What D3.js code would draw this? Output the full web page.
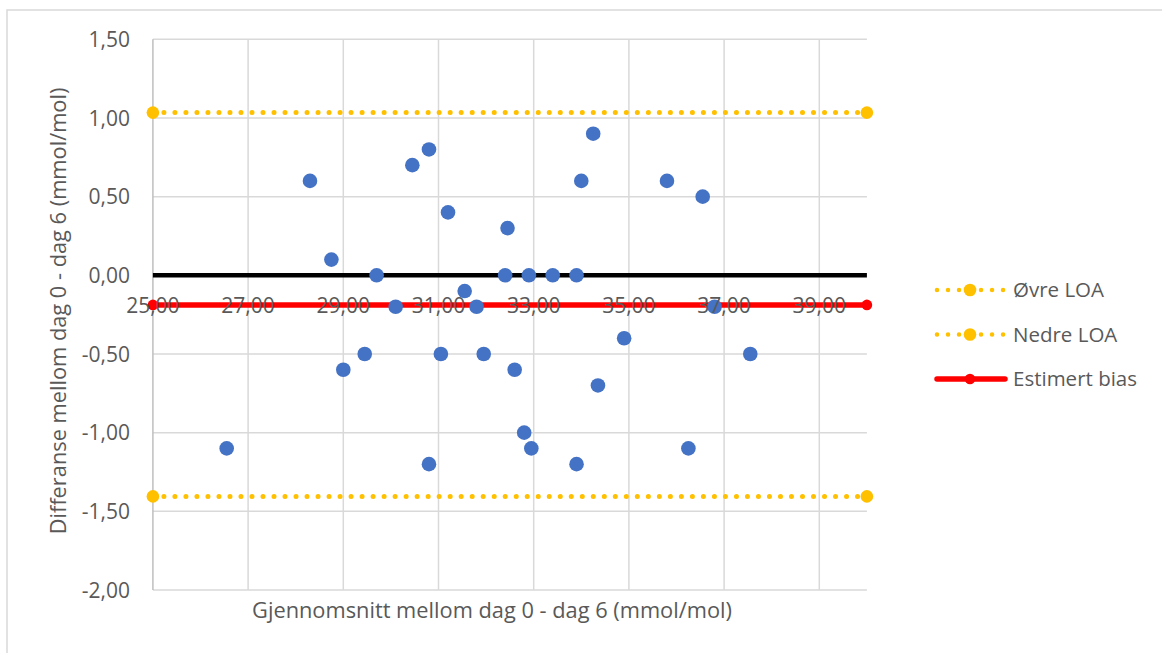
<!DOCTYPE html>
<html>
<head>
<meta charset="utf-8">
<script src="https://cdn.jsdelivr.net/npm/d3@7"></script>
<style>
  html, body { margin: 0; padding: 0; background: #fff; }
  svg { display: block; }
  text { font-family: "Open Sans", sans-serif; fill: #595959; }
</style>
</head>
<body>
<svg id="chart" width="1162" height="653"></svg>
<script>
// Bland-Altman: mean of day 0 and day 6 vs. their difference (mmol/mol)
const meanValues = [26.55, 28.30, 28.75, 29.00, 29.45, 29.70, 30.10, 30.45, 30.80, 30.80,
                    31.05, 31.20, 31.55, 31.80, 31.95, 32.40, 32.45, 32.60, 32.80, 32.90,
                    32.95, 33.40, 33.90, 33.90, 34.00, 34.25, 34.35, 34.90, 35.80, 36.25,
                    36.55, 36.80, 37.55];
const diffValues = [-1.1, 0.6, 0.1, -0.6, -0.5, 0.0, -0.2, 0.7, 0.8, -1.2,
                    -0.5, 0.4, -0.1, -0.2, -0.5, 0.0, 0.3, -0.6, -1.0, 0.0,
                    -1.1, 0.0, 0.0, -1.2, 0.6, 0.9, -0.7, -0.4, 0.6, -1.1,
                    0.5, -0.2, -0.5];

const lineEnds = [25, 40];
const upperLOA = 1.034;
const lowerLOA = -1.405;
const bias = -0.188;
const zeroLine = 0;

const xTicks = [25, 27, 29, 31, 33, 35, 37, 39];
const yTicks = [1.5, 1.0, 0.5, 0.0, -0.5, -1.0, -1.5, -2.0];

const legendLabels = ["Øvre LOA", "Nedre LOA", "Estimert bias"];

const xTitle = "Gjennomsnitt mellom dag 0 - dag 6 (mmol/mol)";
const yTitle = "Differanse mellom dag 0 - dag 6 (mmol/mol)";

const svg = d3.select("#chart");
const fmt = v => d3.format(".2f")(v).replace(".", ",").replace("−", "-");

const x = d3.scaleLinear().domain([25, 40]).range([152.9, 866.9]);
const y = d3.scaleLinear().domain([-2, 1.5]).range([590, 39.3]);

// outer chart frame
svg.append("rect")
  .attr("x", 7).attr("y", 10).attr("width", 1175).attr("height", 660)
  .attr("fill", "none").attr("stroke", "#d9d9d9").attr("stroke-width", 1.5);

// gridlines
const grid = svg.append("g");
grid.selectAll("line.h").data(yTicks).join("line")
  .attr("x1", x(25)).attr("x2", x(40))
  .attr("y1", d => y(d)).attr("y2", d => y(d))
  .attr("stroke", "#d9d9d9").attr("stroke-width", 1.5);
grid.selectAll("line.v").data(xTicks.slice(1)).join("line")
  .attr("x1", d => x(d)).attr("x2", d => x(d))
  .attr("y1", y(1.5)).attr("y2", y(-2))
  .attr("stroke", "#d9d9d9").attr("stroke-width", 1.5);

// vertical value axis line
svg.append("line")
  .attr("x1", x(25)).attr("x2", x(25))
  .attr("y1", y(1.5)).attr("y2", y(-2))
  .attr("stroke", "#bfbfbf").attr("stroke-width", 1.5);

const line = d3.line().x(d => x(d[0])).y(d => y(d[1]));

// zero reference line
svg.append("path")
  .datum(lineEnds.map(v => [v, zeroLine]))
  .attr("d", line).attr("fill", "none")
  .attr("stroke", "#000").attr("stroke-width", 4.5);

// limits of agreement (dotted yellow)
[upperLOA, lowerLOA].forEach(level => {
  const pts = lineEnds.map(v => [v, level]);
  svg.append("path").datum(pts).attr("d", line).attr("fill", "none")
    .attr("stroke", "#FFC000").attr("stroke-width", 5)
    .attr("stroke-linecap", "round").attr("stroke-dasharray", "0.01 11");
  svg.selectAll(null).data(pts).join("circle")
    .attr("cx", d => x(d[0])).attr("cy", d => y(d[1])).attr("r", 6.3)
    .attr("fill", "#FFC000");
});

// estimated bias
const biasPts = lineEnds.map(v => [v, bias]);
svg.append("path").datum(biasPts).attr("d", line).attr("fill", "none")
  .attr("stroke", "#FF0000").attr("stroke-width", 5.5);
svg.selectAll(null).data(biasPts).join("circle")
  .attr("cx", d => x(d[0])).attr("cy", d => y(d[1])).attr("r", 5.3)
  .attr("fill", "#FF0000");

// measurement points
svg.append("g").selectAll("circle")
  .data(meanValues.map((m, i) => [m, diffValues[i]]))
  .join("circle")
  .attr("cx", d => x(d[0])).attr("cy", d => y(d[1])).attr("r", 7.3)
  .attr("fill", "#4472C4");

// y tick labels
svg.append("g").selectAll("text").data(yTicks).join("text")
  .attr("x", 130).attr("y", d => y(d))
  .attr("dy", "0.36em").attr("text-anchor", "end")
  .attr("font-size", 21).text(fmt);

// x tick labels
svg.append("g").selectAll("text").data(xTicks).join("text")
  .attr("x", d => x(d)).attr("y", 312.5)
  .attr("text-anchor", "middle")
  .attr("font-size", 21).text(fmt);

// axis titles
svg.append("text")
  .attr("x", 492).attr("y", 618)
  .attr("text-anchor", "middle").attr("font-size", 21.8)
  .text(xTitle);
svg.append("text")
  .attr("transform", "translate(66,311) rotate(-90)")
  .attr("text-anchor", "middle").attr("font-size", 21.8)
  .text(yTitle);

// legend
const legend = svg.append("g");
const legendY = [290, 334.5, 379];
legendLabels.forEach((label, i) => {
  const g = legend.append("g").attr("transform", `translate(0,${legendY[i]})`);
  if (i < 2) {
    g.append("line").attr("x1", 937).attr("x2", 1004).attr("y1", 0).attr("y2", 0)
      .attr("stroke", "#FFC000").attr("stroke-width", 4.5)
      .attr("stroke-linecap", "round").attr("stroke-dasharray", "0.01 11");
    g.append("circle").attr("cx", 970).attr("cy", 0).attr("r", 6.3).attr("fill", "#FFC000");
  } else {
    g.append("line").attr("x1", 937).attr("x2", 1005).attr("y1", 0).attr("y2", 0)
      .attr("stroke", "#FF0000").attr("stroke-width", 5.5).attr("stroke-linecap", "round");
    g.append("circle").attr("cx", 970).attr("cy", 0).attr("r", 5.3).attr("fill", "#FF0000");
  }
  g.append("text").attr("x", 1013).attr("y", 0).attr("dy", "0.36em")
    .attr("font-size", 20.5).text(label);
});
</script>
</body>
</html>
